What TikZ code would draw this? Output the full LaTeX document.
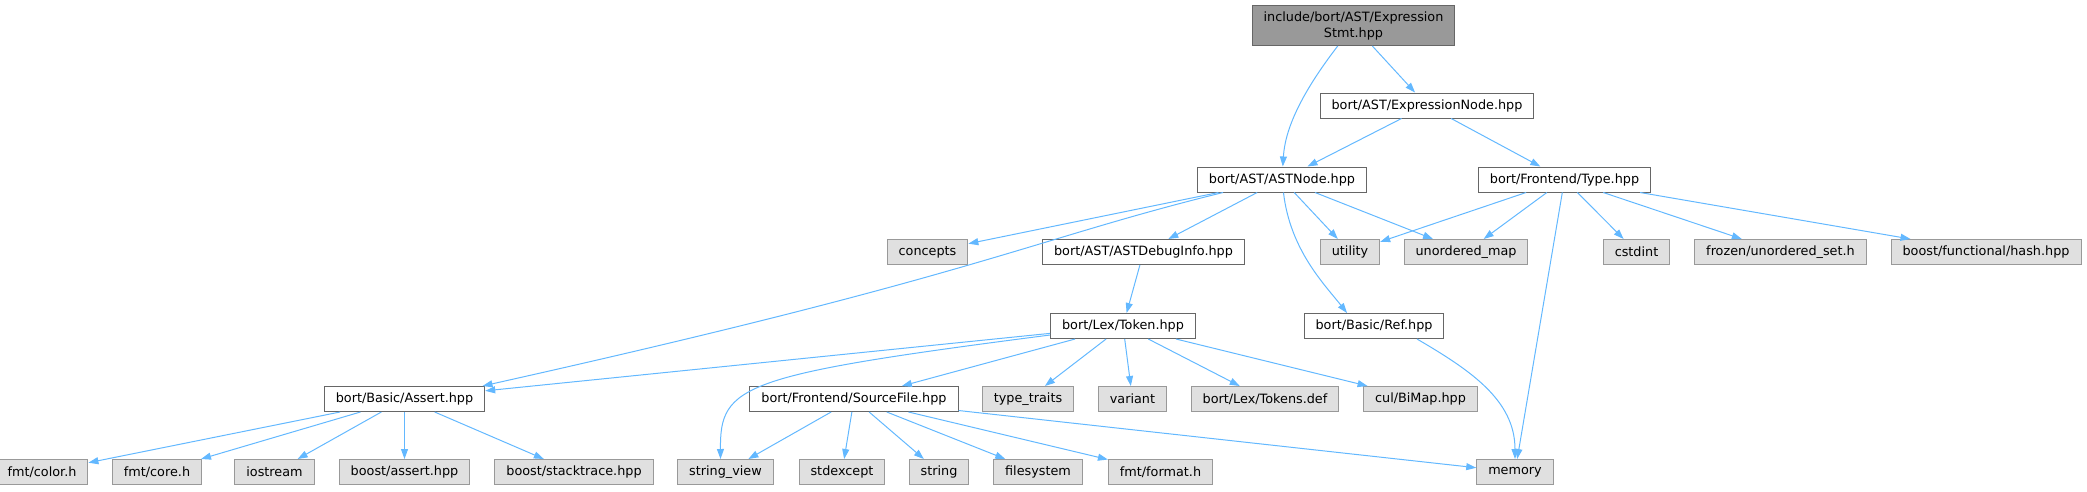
\documentclass[tikz,border=0pt]{standalone}
\usepackage{fontspec}
\setmainfont{DejaVu Sans}
\usetikzlibrary{arrows.meta}
\definecolor{edgeblue}{RGB}{99,184,255}
\definecolor{rootfill}{RGB}{153,153,153}
\definecolor{darkborder}{RGB}{102,102,102}
\definecolor{extfill}{RGB}{224,224,224}
\definecolor{extborder}{RGB}{153,153,153}

\begin{document}
\begin{tikzpicture}[x=1pt, y=-1pt,
  file/.style={draw=darkborder, fill=white, line width=1pt, minimum height=25pt,
    inner xsep=11.5pt, inner ysep=0pt, font=\fontsize{12.8}{16}\selectfont},
  ext/.style={file, draw=extborder, fill=extfill},
  root/.style={file, fill=rootfill, minimum height=40pt, align=center},
  dep/.style={draw=edgeblue, line width=1pt, -{Triangle[length=10pt,width=7pt]}}]
  \useasboundingbox (0,0) rectangle (2087,491);

  % files
  \node[root] (stmt) at (1353.5,25.5) {include/bort/AST/Expression\\Stmt.hpp};
  \node[file] (exprnode) at (1427,105.5) {bort/AST/ExpressionNode.hpp};
  \node[file] (astnode) at (1282,179.5) {bort/AST/ASTNode.hpp};
  \node[file] (type) at (1564.5,179.5) {bort/Frontend/Type.hpp};
  \node[ext] (concepts) at (927.5,252) {concepts};
  \node[file] (debuginfo) at (1143.5,252) {bort/AST/ASTDebugInfo.hpp};
  \node[ext] (utility) at (1350,252) {utility};
  \node[ext] (umap) at (1466,252) {unordered\_map};
  \node[ext] (cstdint) at (1636.5,252) {cstdint};
  \node[ext] (frozenset) at (1780.5,252) {frozen/unordered\_set.h};
  \node[ext] (boosthash) at (1986,252) {boost/functional/hash.hpp};
  \node[file] (token) at (1123,326) {bort/Lex/Token.hpp};
  \node[file] (ref) at (1374,326) {bort/Basic/Ref.hpp};
  \node[file] (assert) at (404.5,399) {bort/Basic/Assert.hpp};
  \node[file] (sourcefile) at (854,399) {bort/Frontend/SourceFile.hpp};
  \node[ext] (typetraits) at (1028,399) {type\_traits};
  \node[ext] (variant) at (1132.5,399) {variant};
  \node[ext] (tokensdef) at (1265,399) {bort/Lex/Tokens.def};
  \node[ext] (bimap) at (1420.5,399) {cul/BiMap.hpp};
  \node[ext] (fmtcolor) at (42,472) {fmt/color.h};
  \node[ext] (fmtcore) at (157,472) {fmt/core.h};
  \node[ext] (iostream) at (274.5,472) {iostream};
  \node[ext] (boostassert) at (404.5,472) {boost/assert.hpp};
  \node[ext] (stacktrace) at (574,472) {boost/stacktrace.hpp};
  \node[ext] (stringview) at (725.5,472) {string\_view};
  \node[ext] (stdexcept) at (842,472) {stdexcept};
  \node[ext] (string) at (939,472) {string};
  \node[ext] (filesystem) at (1038,472) {filesystem};
  \node[ext] (fmtformat) at (1160.5,472) {fmt/format.h};
  \node[ext] (memory) at (1515,472) {memory};

  % includes
  \draw[dep] (stmt) .. controls (1300,95) and (1285,130) .. (astnode);
  \draw[dep] (stmt) -- (exprnode);
  \draw[dep] (exprnode) -- (astnode);
  \draw[dep] (exprnode) -- (type);
  \draw[dep] (astnode) -- (concepts);
  \draw[dep] ([xshift=-59pt]astnode.south) .. controls (1030,240) and (980,275) .. ([xshift=78pt]assert.north);
  \draw[dep] (astnode) -- (debuginfo);
  \draw[dep] (astnode) -- (utility);
  \draw[dep] (astnode) -- (umap);
  \draw[dep] (astnode) .. controls (1290,250) and (1325,285) .. ([xshift=-27pt]ref.north);
  \draw[dep] (type) -- (utility);
  \draw[dep] (type) -- (umap);
  \draw[dep] (type) -- (memory);
  \draw[dep] (type) -- (cstdint);
  \draw[dep] (type) -- (frozenset);
  \draw[dep] (type) -- (boosthash);
  \draw[dep] (debuginfo) -- (token);
  \draw[dep] (token) -- (assert);
  \draw[dep] ([yshift=-9pt]token.west) .. controls (740,375) and (720,385) .. ([xshift=-5pt]stringview.north);
  \draw[dep] (token) -- (sourcefile);
  \draw[dep] (token) -- (typetraits);
  \draw[dep] (token) -- (variant);
  \draw[dep] (token) -- (tokensdef);
  \draw[dep] (token) -- (bimap);
  \draw[dep] ([xshift=43pt]ref.south) .. controls (1470,370) and (1515,400) .. (memory.north);
  \draw[dep] (assert) -- (fmtcolor);
  \draw[dep] (assert) -- (fmtcore);
  \draw[dep] (assert) -- (iostream);
  \draw[dep] (assert) -- (boostassert);
  \draw[dep] (assert) -- (stacktrace);
  \draw[dep] (sourcefile) -- (stringview);
  \draw[dep] (sourcefile) -- (stdexcept);
  \draw[dep] (sourcefile) -- (string);
  \draw[dep] (sourcefile) -- (filesystem);
  \draw[dep] (sourcefile) -- (fmtformat);
  \draw[dep] (sourcefile) -- (memory);
\end{tikzpicture}
\end{document}
